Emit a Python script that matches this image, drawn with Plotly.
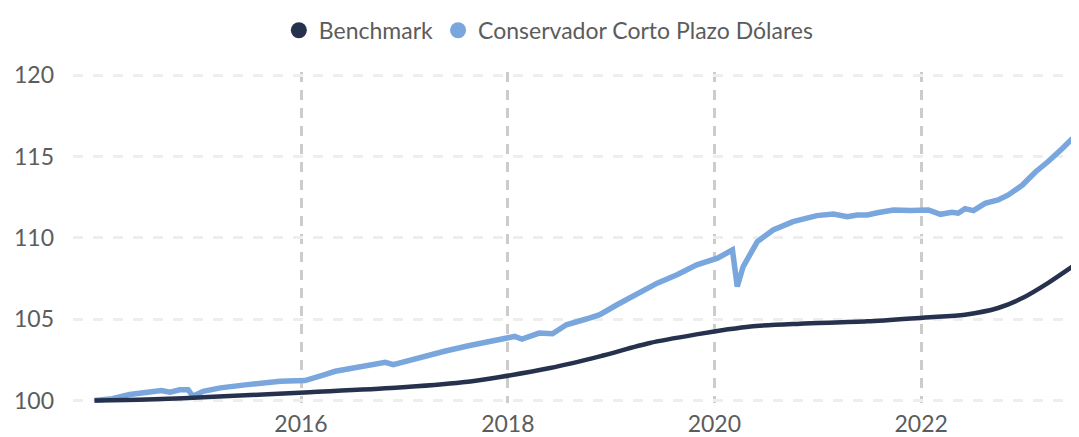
import plotly.graph_objects as go

# Conservador Corto Plazo Dólares
fund_dates = [
    "2014-01-01", "2014-03-05", "2014-05-05", "2014-07-05", "2014-08-25", "2014-09-25",
    "2014-10-30", "2014-11-28", "2014-12-15", "2015-01-20", "2015-03-22", "2015-06-25",
    "2015-10-20", "2016-01-15", "2016-02-20", "2016-03-25", "2016-05-01", "2016-07-10",
    "2016-09-20", "2016-10-25", "2016-11-22", "2017-01-15", "2017-03-15", "2017-05-22",
    "2017-08-15", "2017-10-22", "2018-01-01", "2018-01-25", "2018-02-20", "2018-04-22",
    "2018-06-08", "2018-07-27", "2018-10-08", "2018-11-22", "2019-01-22", "2019-04-02",
    "2019-06-13", "2019-08-22", "2019-10-31", "2020-01-12", "2020-03-05", "2020-03-22",
    "2020-04-12", "2020-06-01", "2020-07-27", "2020-10-05", "2020-12-28", "2021-02-25",
    "2021-04-15", "2021-05-20", "2021-06-25", "2021-07-30", "2021-09-25", "2021-11-25",
    "2022-01-27", "2022-03-10", "2022-04-20", "2022-05-12", "2022-06-05", "2022-07-05",
    "2022-08-15", "2022-09-30", "2022-11-05", "2022-12-25", "2023-02-10", "2023-03-25",
    "2023-04-12", "2023-05-15", "2023-06-20",
]
fund_values = [
    100.00, 100.12, 100.37, 100.51, 100.61, 100.51,
    100.66, 100.67, 100.26, 100.57, 100.78, 100.98,
    101.18, 101.23, 101.39, 101.60, 101.80, 102.04,
    102.21, 102.35, 102.21, 102.47, 102.72, 103.03,
    103.37, 103.64, 103.90, 103.94, 103.78, 104.15,
    104.11, 104.66, 105.03, 105.28, 105.89, 106.56,
    107.22, 107.73, 108.34, 108.75, 109.26, 107.01,
    108.24, 109.77, 110.49, 111.00, 111.37, 111.47,
    111.31, 111.41, 111.41, 111.55, 111.72, 111.68,
    111.72, 111.45, 111.58, 111.52, 111.80, 111.68,
    112.12, 112.33, 112.64, 113.25, 114.07, 114.68,
    114.95, 115.50, 116.12,
]

# Benchmark
bench_dates = [
    "2014-01-01", "2014-07-05", "2015-02-25", "2016-02-01", "2016-11-30", "2017-07-25",
    "2017-12-05", "2018-05-30", "2018-11-22", "2019-05-18", "2019-11-10", "2020-02-08",
    "2020-05-08", "2020-10-30", "2021-06-25", "2022-01-15", "2022-06-05", "2022-09-30",
    "2022-12-25", "2023-03-25", "2023-06-20",
]
bench_values = [
    100.00, 100.06, 100.23, 100.51, 100.78, 101.12,
    101.45, 102.00, 102.72, 103.54, 104.10, 104.35,
    104.56, 104.72, 104.87, 105.11, 105.28, 105.69,
    106.30, 107.22, 108.24,
]

series_names = ["Benchmark", "Conservador Corto Plazo Dólares"]
series_colors = ["#26324d", "#79a6dc"]
y_ticks = [100, 105, 110, 115, 120]
x_ticks = ["2016-01-01", "2018-01-01", "2020-01-01", "2022-01-01"]
x_tick_labels = ["2016", "2018", "2020", "2022"]

FONT = "Lato, 'Open Sans', sans-serif"
TXT = "#5c5c5c"
FS = 23

fig = go.Figure()

fig.add_trace(go.Scatter(
    x=fund_dates, y=fund_values, mode="lines", showlegend=False,
    line=dict(color=series_colors[1], width=5.5), hoverinfo="skip",
))
fig.add_trace(go.Scatter(
    x=bench_dates, y=bench_values, mode="lines", showlegend=False,
    line=dict(color=series_colors[0], width=4.5, shape="spline", smoothing=0.8), hoverinfo="skip",
))

# legend entries (circle markers)
for name, col in zip(series_names, series_colors):
    fig.add_trace(go.Scatter(
        x=[None], y=[None], mode="markers", name=name,
        marker=dict(color=col, size=20, symbol="circle"),
    ))

# the page body adds an 8px offset, so the figure is 8px smaller on each axis
fig.update_layout(
    width=1071, height=429,
    margin=dict(l=65, r=0, t=64, b=34, autoexpand=False),
    paper_bgcolor="white", plot_bgcolor="white",
    font=dict(family=FONT, size=FS, color=TXT),
    legend=dict(
        orientation="h", x=0.505, xanchor="center", xref="container",
        y=0.948, yanchor="middle", yref="container",
        font=dict(family=FONT, size=FS, color=TXT),
        itemwidth=30, itemsizing="trace", traceorder="normal",
    ),
    xaxis=dict(
        type="date",
        range=["2013-10-17", "2023-07-13"],
        tickvals=x_ticks, ticktext=x_tick_labels,
        showgrid=True, gridcolor="#cccccc", gridwidth=3, griddash="10px,8px",
        showline=False, zeroline=False, ticks="", automargin=False,
        ticklabelstandoff=5,
        tickfont=dict(family=FONT, size=FS, color=TXT),
    ),
    yaxis=dict(
        range=[99.85, 120.2],
        tickvals=y_ticks,
        showgrid=True, gridcolor="#eeeeee", gridwidth=3, griddash="10px,10px",
        showline=False, zeroline=False, ticks="", automargin=False,
        ticklabelstandoff=18,
        tickfont=dict(family=FONT, size=FS, color=TXT),
    ),
)

fig.write_html("out.html")
